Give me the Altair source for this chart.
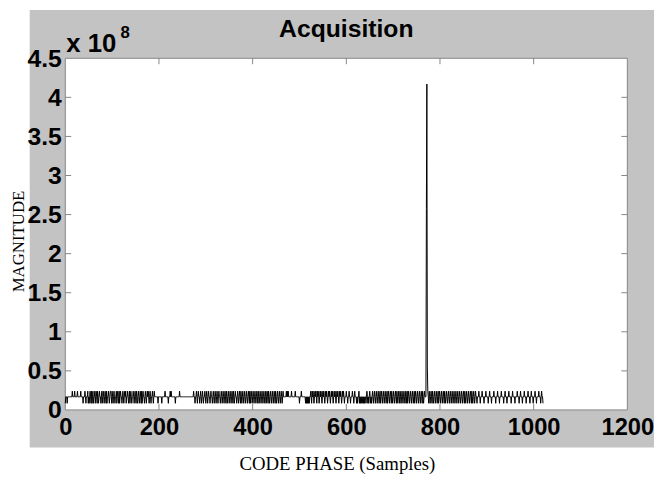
import altair as alt
import pandas as pd

# ---------------- data ----------------
title_text = "Acquisition"
x_title = "CODE PHASE (Samples)"
y_title = "MAGNITUDE"
mult_text = "x 10"
mult_exp = "8"

x_ticks = [0, 200, 400, 600, 800, 1000, 1200]
y_ticks = [0, 0.5, 1, 1.5, 2, 2.5, 3, 3.5, 4, 4.5]

# noise floor (units of 1e8): '-' mid, 'u' up spike, 'd' down spike
level_values = {"-": 0.168, "u": 0.24, "d": 0.085}
noise_rows = [
    "d---d----------u----u-----u------u----d---u-d---ud",
    "-d-u-dud-ud--ud-u-du-d-u--d-ud-u-d-u-dud--u-d-uu-d",
    "u-d-u-d--ud-u-dud-u--d-u-d-u-ud--u-d-ud-u-d--u-d-u",
    "-du-d-u-d-u-dud-u--d-u-d-u-u-d-u-d--u-d-u-------d-",
    "------d------u------d---u-u--------d--------u----",
    "-" * 10 + "-" * 10 + "-----u--d--u-d-u--d-u-d-u-d--u",
    "-d-u-d-u--d-u--d-u-d-u-d-u-d-u--d-u-d-u-d-u-du-d-u",
    "-d-u-d-u-du-d-u--d-u-d-u-du-d-u-d-u-d-u-d-u-dud-u-",
    "d-u-d-u-d-u-du-d-u-d-u-d-u-d-ud-u-du-d-u-d-u-d-u-d",
    "u-d-u-d-u-d-u-d-u------u-u-u------u-------u------",
    "--d---u--------d-d-d-d-d--u-du-u-d-u-u-du-u-d-u-u-",
    "d-u-u-d-u-u-d-u-u-d-u-u-d-u-u-d-u-u-d-u-u-d-u-u-d-",
    "--u--d--u--d---u--d-u---d-d--ud-d-d--d-d-d--d-u-d-",
    "d-u-d-d-u-d-u-d-u-d-u-d-ud-u-d-u-d-u-d-ud-u-d-u-du",
    "-d-u-d-u-du-d-u-du-d-u-d-u-d-ud-ud-u-d-u-d-u-d-ud-",
    "u-d-u-d-u-d-u-du-d-u----d-u-du-d-u-du-d-u-d-u-d-u",
    "d-u-d-u-d-u-du-d-u-d-u-d-u-d-u-d-u-d-u-d-u-d-u-d-u-",
    "d-u-du-d-u-d-u-d-u-du-d-u-d-u--d---u--d---u---d---",
    "u----d--u---d----u---d---u---d---u----d--u---d---u",
    "----d--u----d----u---d--u---d---u---d---u---d--u--",
    "-d---u--d----u---d-u--d",
]

peak_samples = [771, 772, 773]
peak_values = [2.58, 4.17, 0.55]

pattern = "".join(noise_rows)[:1023]
mags = [level_values[c] for c in pattern]
for s, v in zip(peak_samples, peak_values):
    mags[s] = v
df = pd.DataFrame({"sample": list(range(len(mags))), "mag": mags})

inner_x = [t for t in x_ticks if 0 < t < 1200]
inner_y = [t for t in y_ticks if 0 < t < 4.5]

# ---------------- layout ----------------
W, H = 569, 356
GRAY = "#c3c3c3"
FRAME = "#858585"
LABEL_FONT = "Liberation Sans"
SERIF = "Liberation Serif"

xscale = alt.Scale(domain=[0, 1200], nice=False, zero=False)
yscale = alt.Scale(domain=[0, 4.5], nice=False, zero=False)

x_axis = alt.Axis(
    values=x_ticks, format="d", labelFont=LABEL_FONT, labelFontSize=24,
    labelFontWeight="bold", labelColor="black", domain=False, ticks=False,
    grid=False, labelPadding=6, labelFlush=False, labelOverlap=False,
    title=x_title, titleFont=SERIF, titleFontSize=19, titleFontWeight="normal",
    titleColor="black", titleX=275, titleY=54, titleBaseline="middle",
    titleAlign="center", zindex=1)
y_axis = alt.Axis(
    values=y_ticks, format="~g", labelFont=LABEL_FONT, labelFontSize=25,
    labelFontWeight="bold", labelColor="black", domain=False, ticks=False,
    grid=False, labelPadding=4, labelFlush=False, labelOverlap=False,
    title=y_title, titleFont=SERIF, titleFontSize=17, titleFontWeight="normal",
    titleColor="black", titleX=-47, titleY=185, titleAlign="center",
    titleBaseline="middle", zindex=1)

X = alt.X("sample:Q", scale=xscale, axis=x_axis, title=x_title)
Y = alt.Y("mag:Q", scale=yscale, axis=y_axis, title=y_title)

one = alt.Data(values=[{"k": 1}])

bg = alt.Chart(one).mark_rect(fill=GRAY).encode(
    x=alt.value(-36), x2=alt.value(W + 27), y=alt.value(-49), y2=alt.value(H + 38)
)
plot_bg = alt.Chart(one).mark_rect(fill="white", stroke=FRAME, strokeWidth=1).encode(
    x=alt.value(0), x2=alt.value(W), y=alt.value(0), y2=alt.value(H)
)

line = alt.Chart(df).mark_line(color="black", strokeWidth=1).encode(x=X, y=Y)

xt = pd.DataFrame({"sample": inner_x})
yt = pd.DataFrame({"mag": inner_y})
tick_bottom = alt.Chart(xt).mark_rule(color=FRAME).encode(
    x=X, y=alt.value(H), y2=alt.value(H - 6))
tick_top = alt.Chart(xt).mark_rule(color=FRAME).encode(
    x=X, y=alt.value(0), y2=alt.value(6))
tick_left = alt.Chart(yt).mark_rule(color=FRAME).encode(
    y=Y, x=alt.value(0), x2=alt.value(6))
tick_right = alt.Chart(yt).mark_rule(color=FRAME).encode(
    y=Y, x=alt.value(W), x2=alt.value(W - 6))

title = alt.Chart(one).mark_text(font=LABEL_FONT, fontSize=25, fontWeight="bold",
                                 align="center", baseline="alphabetic", color="black").encode(
    x=alt.value(W / 2), y=alt.value(-22), text=alt.value(title_text))
mult = alt.Chart(one).mark_text(font=LABEL_FONT, fontSize=26, fontWeight="bold",
                                align="left", baseline="alphabetic", color="black").encode(
    x=alt.value(1), y=alt.value(-6), text=alt.value(mult_text))
expo = alt.Chart(one).mark_text(font=LABEL_FONT, fontSize=17, fontWeight="bold",
                                align="left", baseline="alphabetic", color="black").encode(
    x=alt.value(56), y=alt.value(-21), text=alt.value(mult_exp))

chart = alt.layer(
    bg, plot_bg, line, tick_bottom, tick_top, tick_left, tick_right, title, mult, expo
).properties(
    width=W, height=H,
    autosize=alt.AutoSizeParams(type="none"),
    padding={"left": 58, "top": 48, "right": 27, "bottom": 66},
    background="white",
).configure_view(stroke=None)

chart.save("out.html", embed_options={"renderer": "svg", "actions": False})
